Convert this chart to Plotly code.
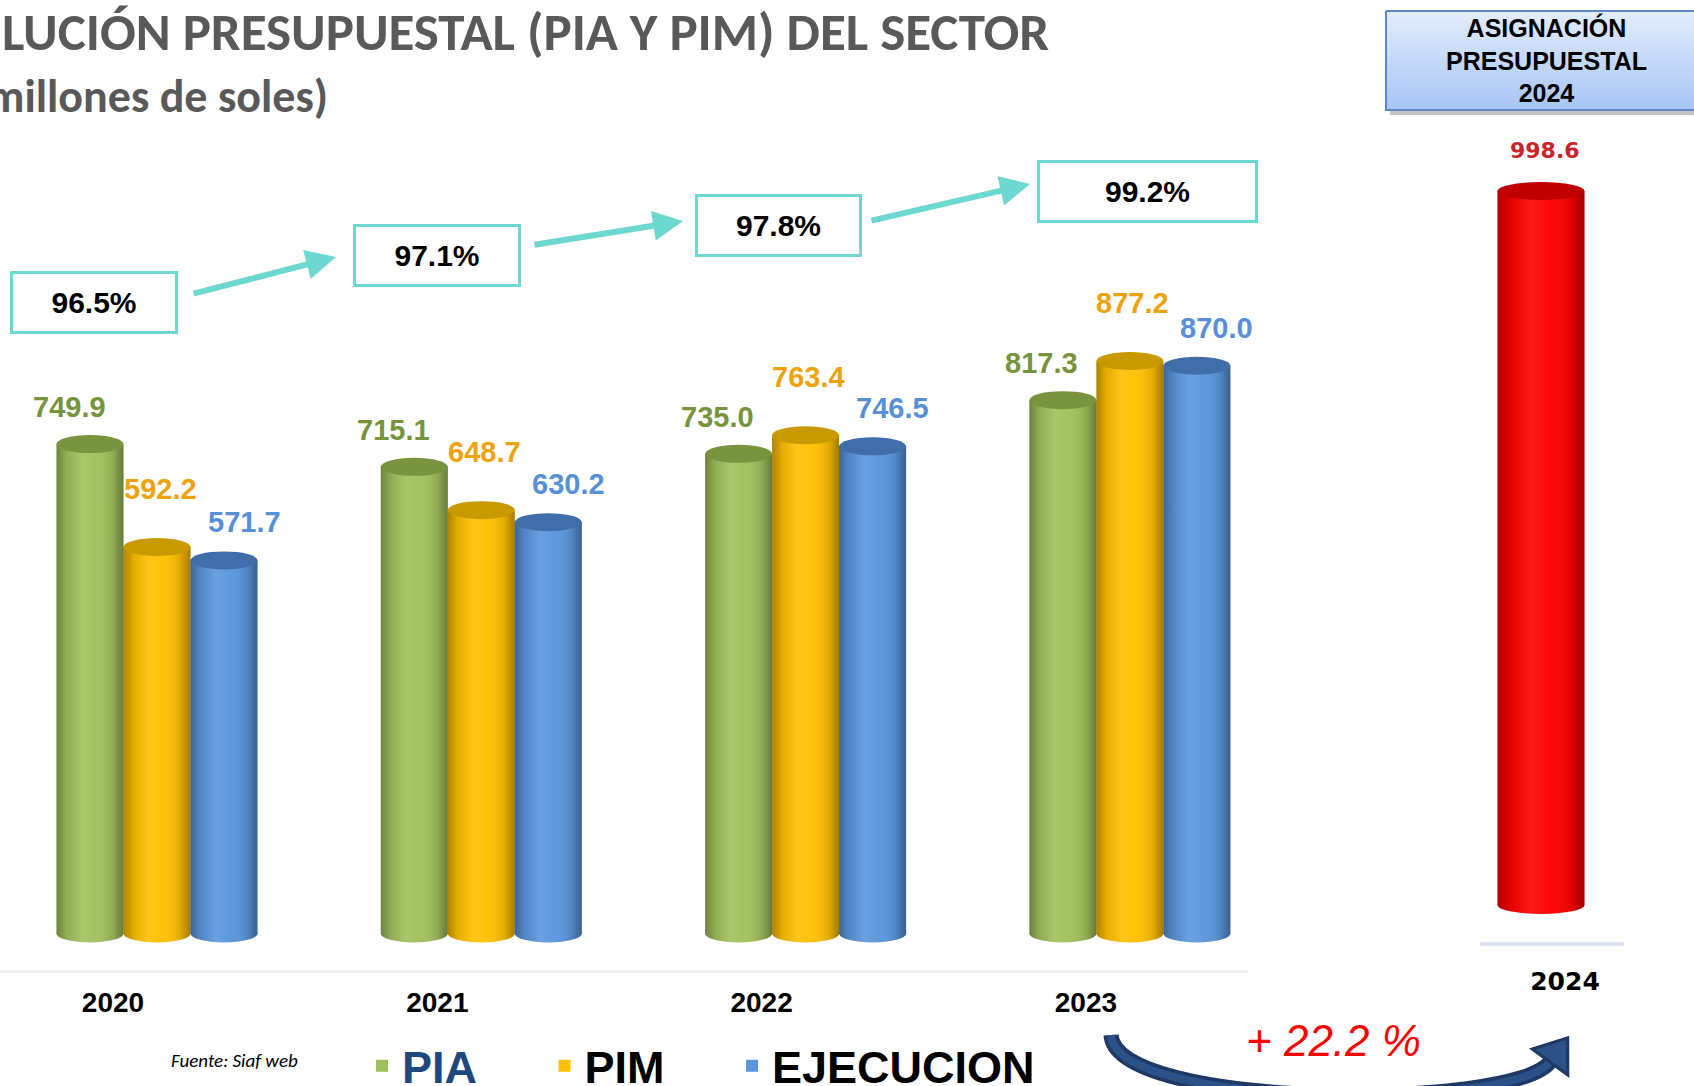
import math
import plotly.graph_objects as go

# ---------------- data ----------------
YEARS = ["2020", "2021", "2022", "2023"]
PIA = [749.9, 715.1, 735.0, 817.3]
PIM = [592.2, 648.7, 763.4, 877.2]
EJECUCION = [571.7, 630.2, 746.5, 870.0]
EXEC_PCT = [96.5, 97.1, 97.8, 99.2]          # ejecución / PIM (%)
YEAR_2024 = ["2024"]
ASIGNACION_2024 = [998.6]
GROWTH_PCT = 22.2
SERIES_NAMES = ["PIA", "PIM", "EJECUCION"]
SERIES_VALUES = [PIA, PIM, EJECUCION]

# ---------------- canvas / geometry (pixels) ----------------
W, H = 1694, 1086
MAIN_LEFT, MAIN_RIGHT = 0, 1248
FIRST_CENTER, STEP = 157, 324.3
MAIN_AXIS_Y, MAIN_BASE_Y, MAIN_PPU = 970, 933.5, 0.6526
BAR_PX = 67
R_LEFT, R_RIGHT, R_CENTER = 1480, 1624, 1541
R_AXIS_Y, R_BASE_Y, R_PPU = 942, 905, 0.715
R_BAR_PX = 87
CAP_PX = 9

# ---------------- fonts ----------------
TITLE_FONT = "Carlito, 'Open Sans', sans-serif"
NARROW = "'Liberation Sans', Arial, sans-serif"
ARIAL = "'Liberation Sans', Arial, sans-serif"
VERDANA = "'DejaVu Sans', Verdana, sans-serif"

STYLE = {
    "PIA": dict(base="#a0c05c", cap="#78943e", label="#77933c", legend="#1f497d", dx=-21, dy=37, pad=5),
    "PIM": dict(base="#ffc000", cap="#c99a00", label="#eea20c", legend="#000000", dx=3, dy=58, pad=5),
    "EJECUCION": dict(base="#5a96dc", cap="#3f6ea8", label="#5890d8", legend="#000000", dx=20, dy=38, pad=0),
}
RED = dict(base="#ff0000", cap="#c00000", label="#cc2229")
SHADE = [[0, "rgba(0,0,0,0.32)"], [0.15, "rgba(0,0,0,0.10)"], [0.38, "rgba(255,255,255,0.10)"],
         [0.6, "rgba(255,255,255,0.03)"], [0.85, "rgba(0,0,0,0.12)"], [1, "rgba(0,0,0,0.36)"]]


def px(x):
    return x / W


def py(y):
    return 1 - y / H


fig = go.Figure()

# ---------------- main axes ----------------
x_main = list(range(len(YEARS)))
bar_w = BAR_PX / STEP
y_lo = -(MAIN_AXIS_Y - MAIN_BASE_Y) / MAIN_PPU
y_hi = MAIN_BASE_Y / MAIN_PPU

shapes = []
annotations = []


def cylinder(xc, val, half_w, ppu, sty, xref, yref):
    # bottom rounded cap (below the bar)
    shapes.append(dict(type="circle", xref=xref, yref=yref, x0=xc - half_w, x1=xc + half_w,
                       ysizemode="pixel", yanchor=0, y0=-CAP_PX, y1=CAP_PX,
                       fillcolor=sty["base"], line=dict(width=0), layer="below"))
    # shading overlay
    d = CAP_PX / ppu
    xs = [xc - half_w, xc - half_w]
    ys = [val, 0]
    n = 24
    for j in range(1, n):
        t = math.pi * j / n
        xs.append(xc - half_w * math.cos(t))
        ys.append(-d * math.sin(t))
    xs += [xc + half_w, xc + half_w, xc - half_w]
    ys += [0, val, val]
    fig.add_trace(go.Scatter(x=xs, y=ys, mode="none", fill="toself",
                             fillgradient=dict(type="horizontal", colorscale=SHADE),
                             xaxis=xref, yaxis=yref, showlegend=False, hoverinfo="skip"))
    # top cap
    shapes.append(dict(type="circle", xref=xref, yref=yref, x0=xc - half_w, x1=xc + half_w,
                       ysizemode="pixel", yanchor=val, y0=-CAP_PX, y1=CAP_PX,
                       fillcolor=sty["cap"], line=dict(width=0), layer="above"))


for k, (name, vals) in enumerate(zip(SERIES_NAMES, SERIES_VALUES)):
    sty = STYLE[name]
    fig.add_trace(go.Bar(
        x=x_main, y=vals,
        name=f"<span style='color:{sty['legend']}'>{name}</span>" + "\u00a0" * sty["pad"],
        marker=dict(color=sty["base"], line=dict(width=0)),
        xaxis="x", yaxis="y", offsetgroup=str(k), hoverinfo="skip"))

for k, (name, vals) in enumerate(zip(SERIES_NAMES, SERIES_VALUES)):
    sty = STYLE[name]
    for i, v in enumerate(vals):
        xc = x_main[i] + (k - 1) * bar_w
        cylinder(xc, v, bar_w / 2, MAIN_PPU, sty, "x", "y")
        annotations.append(dict(xref="x", yref="y", x=xc, y=v, text=f"{v:.1f}", showarrow=False,
                                xshift=sty["dx"], yshift=sty["dy"],
                                font=dict(family=NARROW, size=29, color=sty["label"], weight="bold")))

# ---------------- 2024 axes ----------------
r_unit = R_RIGHT - R_LEFT
r_w = R_BAR_PX / r_unit
fig.add_trace(go.Bar(x=[0], y=ASIGNACION_2024, width=r_w, marker=dict(color=RED["base"], line=dict(width=0)),
                     xaxis="x2", yaxis="y2", showlegend=False, hoverinfo="skip"))
for v in ASIGNACION_2024:
    cylinder(0, v, r_w / 2, R_PPU, RED, "x2", "y2")
    annotations.append(dict(xref="x2", yref="y2", x=0, y=v, text=f"{v:.1f}", showarrow=False,
                            xshift=4, yshift=41,
                            font=dict(family=VERDANA, size=22, color=RED["label"], weight="bold")))

# ---------------- decoration layer (pixel coordinates) ----------------
BOX = (1386, 11, 1700, 110)
bx0, by0, bx1, by1 = BOX
fig.add_trace(go.Scatter(x=[bx0 + 4, bx1 + 4, bx1 + 4, bx0 + 4, bx0 + 4], y=[by0 + 5, by0 + 5, by1 + 5, by1 + 5, by0 + 5],
                         mode="none", fill="toself", fillcolor="rgba(80,80,80,0.35)",
                         xaxis="x3", yaxis="y3", showlegend=False, hoverinfo="skip"))
fig.add_trace(go.Scatter(x=[bx0, bx1, bx1, bx0, bx0], y=[by0, by0, by1, by1, by0],
                         mode="lines", line=dict(color="#5b87c5", width=2), fill="toself",
                         fillgradient=dict(type="vertical", start=by0, stop=by1,
                                           colorscale=[[0, "#e3edfc"], [1, "#a6c5f5"]]),
                         xaxis="x3", yaxis="y3", showlegend=False, hoverinfo="skip"))
annotations.append(dict(xref="x3", yref="y3", x=1546, y=60, showarrow=False,
                        text="ASIGNACIÓN<br>PRESUPUESTAL<br>2024",
                        font=dict(family=ARIAL, size=25, color="#000000", weight="bold")))

# curved growth arrow
P0, P1, P2, P3 = (1111, 1035), (1115, 1110), (1515, 1110), (1550, 1062)
curve = f"M {P0[0]},{P0[1]} C {P1[0]},{P1[1]} {P2[0]},{P2[1]} {P3[0]},{P3[1]}"
shapes.append(dict(type="path", xref="x3", yref="y3", path=curve, line=dict(color="#1f3864", width=15)))
shapes.append(dict(type="path", xref="x3", yref="y3", path=curve, line=dict(color="#2b5288", width=8)))
dxv, dyv = P3[0] - P2[0], P3[1] - P2[1]
ln = math.hypot(dxv, dyv)
ux, uy = dxv / ln, dyv / ln
tip = (P3[0] + ux * 30, P3[1] + uy * 30)
b1 = (P3[0] - uy * 22, P3[1] + ux * 22)
b2 = (P3[0] + uy * 22, P3[1] - ux * 22)
shapes.append(dict(type="path", xref="x3", yref="y3",
                   path=f"M {tip[0]:.1f},{tip[1]:.1f} L {b1[0]:.1f},{b1[1]:.1f} L {b2[0]:.1f},{b2[1]:.1f} Z",
                   fillcolor="#2b5288", line=dict(color="#1f3864", width=3)))
annotations.append(dict(xref="x3", yref="y3", x=1333, y=1040, showarrow=False,
                        text=f"+ {GROWTH_PCT} %",
                        font=dict(family=ARIAL, size=44, color="#ff0000", style="italic")))

# percentage boxes and arrows
BOX_CENTERS = [(94, 302), (437, 255), (778, 225), (1147, 191)]
BOX_WIDTHS = [168, 168, 167, 221]
BOX_H = 63
for (cx, cy), bw, pct in zip(BOX_CENTERS, BOX_WIDTHS, EXEC_PCT):
    annotations.append(dict(xref="x3", yref="y3", x=cx, y=cy, showarrow=False, text=f"{pct:.1f}%",
                            width=bw - 6, height=BOX_H - 6, borderpad=0, bordercolor="#6dd8d0",
                            borderwidth=3, bgcolor="#ffffff",
                            font=dict(family=ARIAL, size=30, color="#000000", weight="bold")))
ARROWS = [((192, 294), (336, 257)), ((533, 245), (683, 221)), ((870, 221), (1030, 184))]
for (tx, ty), (hx, hy) in ARROWS:
    annotations.append(dict(xref="x3", yref="y3", x=hx, y=hy, ax=tx - hx, ay=ty - hy, text="",
                            showarrow=True, arrowhead=2, arrowsize=1, arrowwidth=6,
                            arrowcolor="#6dd8d0", standoff=0))

# titles
annotations.append(dict(xref="paper", yref="paper", x=px(0), y=py(32), xanchor="left", yanchor="middle",
                        showarrow=False, text="LUCIÓN PRESUPUESTAL (PIA Y PIM) DEL SECTOR",
                        font=dict(family=TITLE_FONT, size=53, color="#595959", weight="bold")))
annotations.append(dict(xref="paper", yref="paper", x=px(330), y=py(96), xanchor="right", yanchor="middle",
                        showarrow=False, text="millones de soles)",
                        font=dict(family=TITLE_FONT, size=46, color="#595959", weight="bold")))
annotations.append(dict(xref="paper", yref="paper", x=px(169), y=py(1060), xanchor="left", yanchor="middle",
                        showarrow=False, text="Fuente: Siaf web",
                        font=dict(family=TITLE_FONT, size=19, color="#000000", style="italic")))

fig.update_layout(
    width=W, height=H,
    margin=dict(l=0, r=0, t=0, b=0, pad=0, autoexpand=False),
    paper_bgcolor="#ffffff", plot_bgcolor="rgba(0,0,0,0)",
    barmode="group", bargap=1 - 3 * bar_w, bargroupgap=0,
    showlegend=True,
    legend=dict(orientation="h", x=px(362), xanchor="left", y=py(1066), yanchor="middle",
                font=dict(family=ARIAL, size=45, color="#000000", weight="bold"),
                bgcolor="rgba(0,0,0,0)", traceorder="normal"),
    xaxis=dict(domain=[px(MAIN_LEFT), px(MAIN_RIGHT)], anchor="y",
               range=[(MAIN_LEFT - FIRST_CENTER) / STEP, (MAIN_RIGHT - FIRST_CENTER) / STEP],
               tickvals=x_main, ticktext=YEARS, ticks="", showgrid=False, zeroline=False,
               showline=True, linecolor="#f0f0f0", linewidth=3,
               ticklabelshift=-44, ticklabelstandoff=5,
               tickfont=dict(family=NARROW, size=28, color="#000000", weight="bold")),
    yaxis=dict(domain=[py(MAIN_AXIS_Y), 1], anchor="x", range=[y_lo, y_hi], visible=False),
    xaxis2=dict(domain=[px(R_LEFT), px(R_RIGHT)], anchor="y2",
                range=[(R_LEFT - R_CENTER) / r_unit, (R_RIGHT - R_CENTER) / r_unit],
                tickvals=[0], ticktext=YEAR_2024, ticks="", showgrid=False, zeroline=False,
                showline=True, linecolor="#dce6f2", linewidth=4,
                ticklabelshift=24, ticklabelstandoff=14,
                tickfont=dict(family=VERDANA, size=25, color="#000000", weight="bold")),
    yaxis2=dict(domain=[py(R_AXIS_Y), 1], anchor="x2",
                range=[-(R_AXIS_Y - R_BASE_Y) / R_PPU, R_BASE_Y / R_PPU], visible=False),
    xaxis3=dict(domain=[0, 1], anchor="y3", range=[0, W], visible=False),
    yaxis3=dict(domain=[0, 1], anchor="x3", range=[H, 0], visible=False),
    shapes=shapes,
    annotations=annotations,
)

fig.write_html("out.html", config={"displayModeBar": False},
               post_script="document.body.style.margin='0';document.body.style.overflow='hidden';")
